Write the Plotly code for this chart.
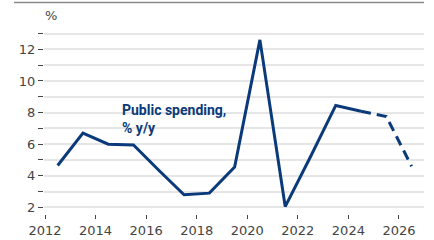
import plotly.graph_objects as go

years = [2012.5, 2013.5, 2014.5, 2015.5, 2016.5, 2017.5, 2018.5, 2019.5, 2020.5,
         2021.5, 2022.5, 2023.5, 2024.5, 2025.5, 2026.5]
values = [4.65, 6.7, 6.0, 5.95, 4.35, 2.8, 2.9, 4.55, 12.6,
          2.05, 5.2, 8.45, 8.08, 7.75, 4.6]
forecast_start = 2024.5

y_ticks = list(range(2, 14))
y_labels = [str(v) if v % 2 == 0 else "" for v in y_ticks]
x_ticks = list(range(2012, 2027, 2))

solid_x = [x for x in years if x <= forecast_start]
solid_y = [v for x, v in zip(years, values) if x <= forecast_start]
dash_x = [x for x in years if x >= forecast_start]
dash_y = [v for x, v in zip(years, values) if x >= forecast_start]

W, H = 434, 240
color = "#0a3a7a"
fig = go.Figure()
fig.add_trace(go.Scatter(x=solid_x, y=solid_y, mode="lines",
                         line=dict(color=color, width=3), hoverinfo="skip"))
fig.add_trace(go.Scatter(x=dash_x, y=dash_y, mode="lines",
                         line=dict(color=color, width=3, dash="10px,6px"), hoverinfo="skip"))

fig.update_layout(
    width=W, height=H,
    margin=dict(l=0, r=0, t=0, b=0, autoexpand=False),
    paper_bgcolor="white", plot_bgcolor="white",
    showlegend=False,
    font=dict(family="DejaVu Sans", size=13, color="#444444"),
    xaxis=dict(domain=[44 / W, 424 / W], range=[2011.96, 2026.99], tickvals=x_ticks,
               showgrid=False, zeroline=False, showline=False, ticks="outside",
               ticklen=4, tickcolor="#444444", tickwidth=1.2, automargin=False),
    yaxis=dict(domain=[26 / H, 212 / H], range=[1.58, 13.35], tickvals=y_ticks,
               ticktext=y_labels, showgrid=True, gridcolor="#e6e6e6", gridwidth=1.5,
               zeroline=False, showline=False, ticks="outside", ticklen=5,
               tickcolor="#444444", tickwidth=1.2, automargin=False),
    annotations=[
        dict(text="%", xref="paper", yref="paper", x=51 / W, y=1 - 15 / H,
             showarrow=False, xanchor="center", yanchor="middle",
             font=dict(size=13, color="#444444")),
        dict(text="<b>Public spending,<br>% y/y</b>", xref="paper", yref="paper",
             x=120 / W, y=1 - 99.6 / H, showarrow=False, xanchor="left", yanchor="top",
             align="left", font=dict(family="Roboto", size=14, color="#0a3a7a")),
    ],
)
fig.add_shape(type="line", xref="paper", yref="paper", layer="above",
              x0=14 / W, x1=424 / W, y0=1 - 2.5 / H, y1=1 - 2.5 / H,
              line=dict(color="#8a8a8a", width=1.5))

fig.write_html("out.html", config={"displayModeBar": False},
               post_script="document.body.style.margin='0';")
